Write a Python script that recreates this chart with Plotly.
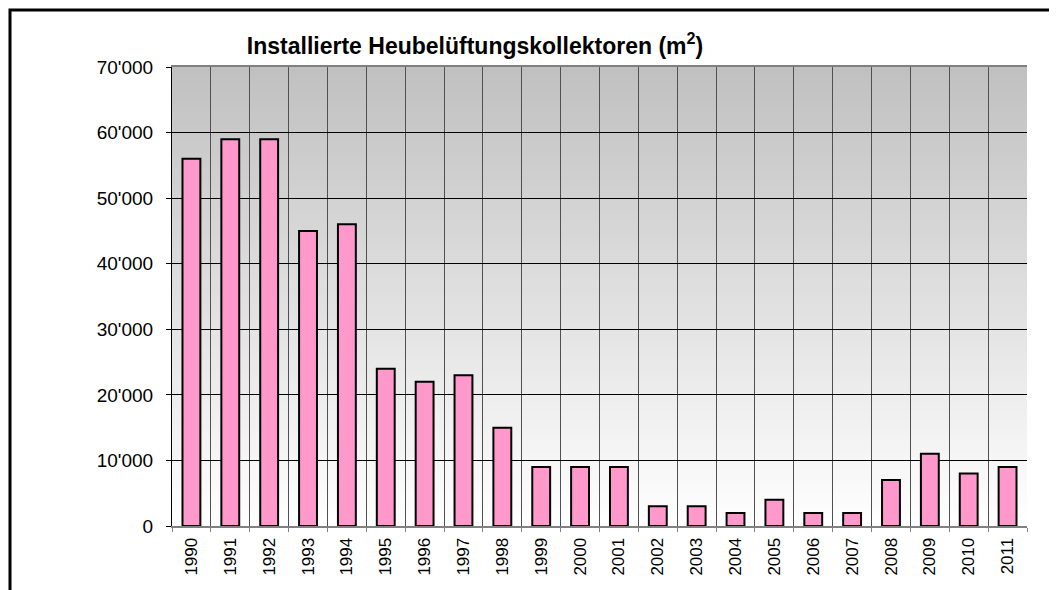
import plotly.graph_objects as go

years = ["1990", "1991", "1992", "1993", "1994", "1995", "1996", "1997", "1998", "1999", "2000",
         "2001", "2002", "2003", "2004", "2005", "2006", "2007", "2008", "2009", "2010", "2011"]
area_m2 = [56000, 59000, 59000, 45000, 46000, 24000, 22000, 23000, 15000, 9000, 9000,
           9000, 3000, 3000, 2000, 4000, 2000, 2000, 7000, 11000, 8000, 9000]
y_ticks = [0, 10000, 20000, 30000, 40000, 50000, 60000, 70000]
title_text = "<b>Installierte Heubelüftungskollektoren (m<sup>2</sup>)</b>"

# page body adds an 8px offset
OFF = 8
W, H = 1057 - OFF, 590 - OFF
L, T = 172 - OFF, 67 - OFF
R = W - (1027 - OFF)
B = H - (526 - OFF)
pw, ph = W - L - R, H - T - B

FONT = "Liberation Sans, Arial, sans-serif"

fig = go.Figure()
fig.add_trace(go.Bar(
    x=years, y=area_m2,
    marker=dict(color="#ff99cc", line=dict(color="#000000", width=2)),
    hoverinfo="x+y",
))

shapes = []
# vertical gradient background (gray top -> white bottom)
n = 80
for i in range(n):
    f0 = i / n
    f1 = (i + 1) / n
    t = (f0 + f1) / 2  # 0 bottom, 1 top
    c = int(round(255 - (255 - 192) * t))
    shapes.append(dict(type="rect", xref="x domain", yref="y domain",
                       x0=0, x1=1, y0=f0, y1=f1 + 0.002,
                       fillcolor=f"rgb({c},{c},{c})", line=dict(width=0), layer="below"))

def px_to_paper_x(px):
    return (px - OFF - L) / pw

def px_to_paper_y(py):
    return (H - B - (py - OFF)) / ph

# outer frame of the chart
shapes.append(dict(type="rect", xref="paper", yref="paper",
                   x0=px_to_paper_x(10), x1=px_to_paper_x(1090),
                   y0=px_to_paper_y(620), y1=px_to_paper_y(10),
                   line=dict(color="#000000", width=3), fillcolor="rgba(0,0,0,0)", layer="above"))

fig.update_layout(
    width=W, height=H,
    margin=dict(l=L, r=R, t=T, b=B, pad=0),
    paper_bgcolor="#ffffff",
    plot_bgcolor="rgba(0,0,0,0)",
    separators=".'",
    bargap=0.54,
    showlegend=False,
    shapes=shapes,
    font=dict(family=FONT, size=18, color="#000000"),
    title=dict(text=title_text, x=(475 - OFF) / W, xref="container", xanchor="center",
               y=1 - (46 - OFF) / H, yref="container", yanchor="middle",
               font=dict(family=FONT, size=23, color="#000000")),
    xaxis=dict(
        type="category", tickangle=-90, tickson="boundaries",
        showgrid=True, gridcolor="#505050", gridwidth=1,
        ticks="outside", ticklen=4, tickcolor="#808080",
        showline=True, linecolor="#808080", linewidth=2, mirror=True,
        ticklabelstandoff=3,
        tickfont=dict(family=FONT, size=17, color="#000000"),
        range=[-0.5, len(years) - 0.5],
    ),
    yaxis=dict(
        range=[0, 70000], tickvals=y_ticks, tickformat=",d",
        showgrid=True, gridcolor="#000000", gridwidth=1,
        ticks="outside", ticklen=5, tickcolor="#000000",
        showline=True, linecolor="#000000", linewidth=1,
        zeroline=False, ticklabelstandoff=9,
        tickfont=dict(family=FONT, size=19, color="#000000"),
    ),
)

fig.write_html("out.html")
